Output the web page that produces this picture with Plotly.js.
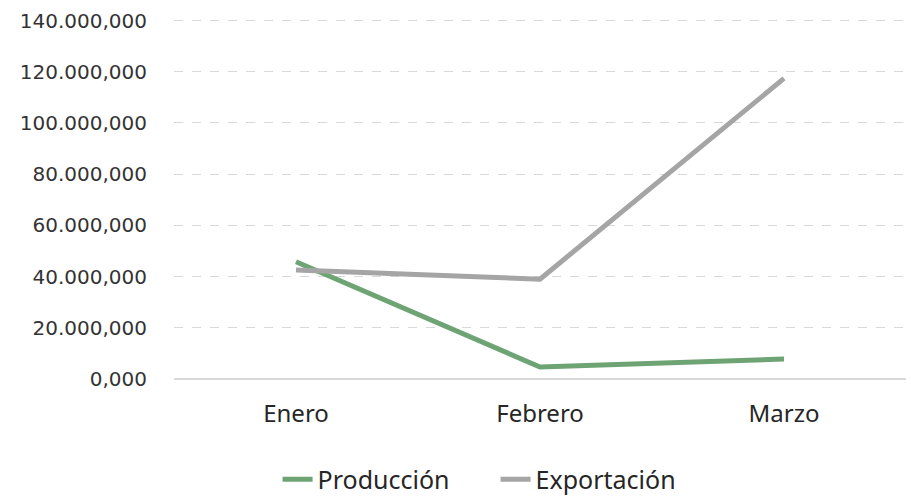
<!DOCTYPE html>
<html>
<head>
<meta charset="utf-8">
<script src="https://cdn.plot.ly/plotly-3.0.1.min.js"></script>
<style>html,body{margin:0;padding:0;background:#fff;}#chart{width:911px;height:497px;}</style>
</head>
<body>
<div id="chart"></div>
<script>
const categories = ["Enero", "Febrero", "Marzo"];
const produccion = [45.8e6, 4.7e6, 7.8e6];
const exportacion = [42.6e6, 39.0e6, 117.4e6];
const yTickVals = [0, 20e6, 40e6, 60e6, 80e6, 100e6, 120e6, 140e6];
const yTickText = ["0,000", "20.000,000", "40.000,000", "60.000,000", "80.000,000", "100.000,000", "120.000,000", "140.000,000"];

const yFont = "'DejaVu Sans', sans-serif";
const xFont = "'Noto Sans', 'Open Sans', sans-serif";

const traces = [
  {x: categories, y: produccion, name: "Producción", type: "scatter", mode: "lines",
   line: {color: "#6ea474", width: 5}},
  {x: categories, y: exportacion, name: "Exportación", type: "scatter", mode: "lines",
   line: {color: "#a5a5a5", width: 5}}
];

const layout = {
  width: 911, height: 497,
  margin: {l: 174, r: 5, t: 18, b: 118},
  paper_bgcolor: "#fff", plot_bgcolor: "#fff",
  font: {family: xFont, size: 24, color: "#262626"},
  showlegend: true,
  legend: {orientation: "h", xref: "container", yref: "container",
           x: 0.544, xanchor: "center", y: 0.035, yanchor: "middle",
           font: {family: xFont, size: 25, color: "#262626"},
           entrywidth: 173, entrywidthmode: "pixels", tracegroupgap: 0},
  xaxis: {type: "category", range: [-0.5, 2.5], showgrid: false, zeroline: false,
          showline: false, ticks: "", ticklabelstandoff: 18,
          tickfont: {family: xFont, size: 24, color: "#262626"}},
  yaxis: {range: [0, 141e6], tickvals: yTickVals, ticktext: yTickText,
          showgrid: true, gridcolor: "#d9d9d9", griddash: "dash", gridwidth: 1,
          zeroline: true, zerolinecolor: "#d9d9d9", zerolinewidth: 1.5,
          showline: false, ticks: "", ticklabelstandoff: 26,
          tickfont: {family: yFont, size: 20, color: "#333333"}}
};

Plotly.newPlot("chart", traces, layout, {displayModeBar: false, staticPlot: true});
</script>
</body>
</html>
